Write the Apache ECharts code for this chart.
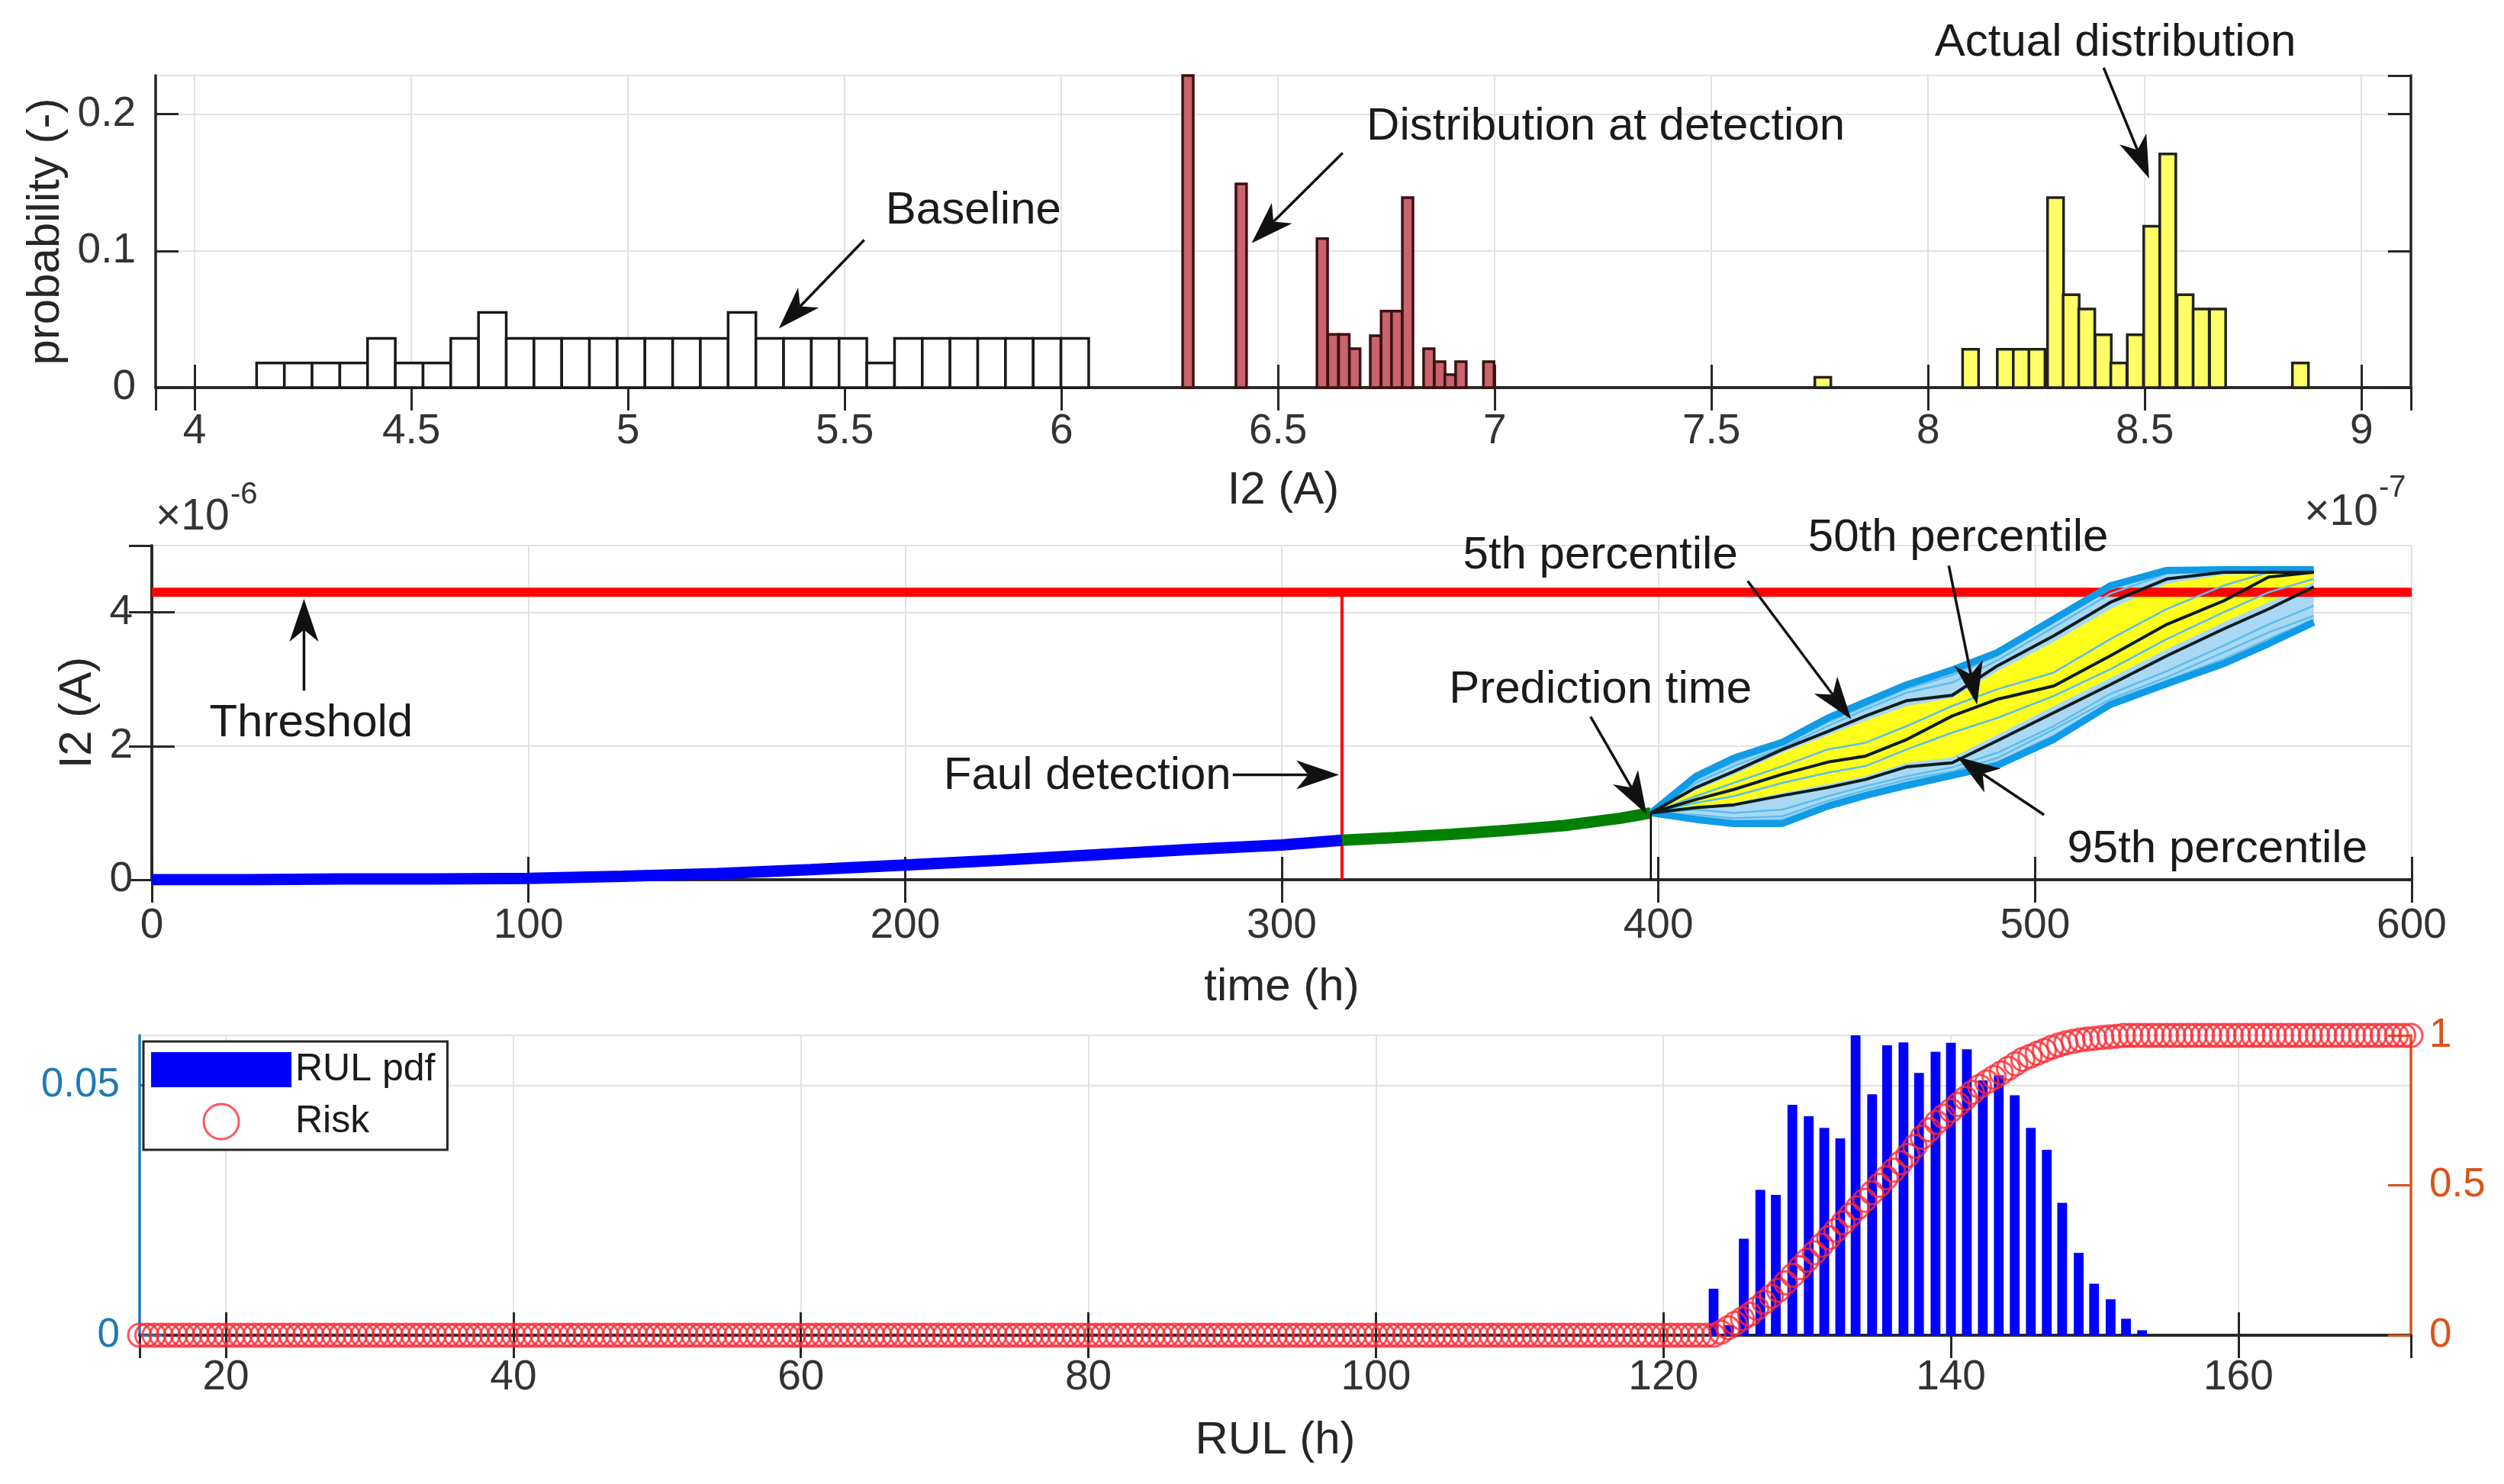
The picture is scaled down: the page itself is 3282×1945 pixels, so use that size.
<!DOCTYPE html>
<html>
<head>
<meta charset="utf-8">
<title>I2 degradation and RUL</title>
<script src="https://cdn.jsdelivr.net/npm/echarts@6/dist/echarts.min.js"></script>
<style>
html, body { margin: 0; padding: 0; background: #fff; }
#main { width: 3282px; height: 1945px; }
</style>
</head>
<body>
<div id="main"></div>
<script>
// ---- top panel: I2 histograms (x in units of 1e-7 A) ----
var baselineEdges = [4.143, 4.207, 4.271, 4.335, 4.399, 4.463, 4.527, 4.591, 4.655, 4.719,
    4.783, 4.847, 4.911, 4.975, 5.039, 5.103, 5.167, 5.231, 5.295, 5.359,
    5.423, 5.487, 5.551, 5.615, 5.679, 5.743, 5.807, 5.871, 5.935, 5.999, 6.063];
var baselineProb = [0.018, 0.018, 0.018, 0.018, 0.036, 0.018, 0.018, 0.036, 0.055, 0.036,
    0.036, 0.036, 0.036, 0.036, 0.036, 0.036, 0.036, 0.055, 0.036, 0.036,
    0.036, 0.036, 0.018, 0.036, 0.036, 0.036, 0.036, 0.036, 0.036, 0.036];

var detectCenters = [6.292, 6.415, 6.602, 6.627, 6.652, 6.677, 6.725, 6.750, 6.774, 6.799,
    6.848, 6.873, 6.897, 6.922, 6.986];
var detectProb = [0.24, 0.149, 0.109, 0.039, 0.039, 0.0285, 0.038, 0.056, 0.056, 0.139,
    0.0285, 0.019, 0.0095, 0.019, 0.019];
var detectWidth = 0.0245;

var actualCenters = [7.757, 8.098, 8.178, 8.215, 8.251, 8.294, 8.330, 8.366, 8.404, 8.440,
    8.478, 8.516, 8.553, 8.593, 8.630, 8.668, 8.859];
var actualProb = [0.0075, 0.028, 0.028, 0.028, 0.028, 0.139, 0.068, 0.0575, 0.0387, 0.018,
    0.0387, 0.118, 0.171, 0.068, 0.0575, 0.0575, 0.018];
var actualWidth = 0.037;

// ---- middle panel: I2 over time (units of 1e-6 A) ----
var histTime = [0, 25, 50, 75, 100, 125, 150, 175, 200, 225, 250, 275, 300, 316];
var histI2 = [0.0, 0.0, 0.01, 0.01, 0.02, 0.05, 0.09, 0.15, 0.22, 0.29, 0.37, 0.45, 0.52, 0.59];
var detTime = [316, 330, 345, 360, 375, 390, 398];
var detI2 = [0.59, 0.63, 0.68, 0.74, 0.81, 0.92, 1.0];
var threshold = 4.3;
var faultTime = 316;
var predTime = 398;

var fanTime = [398, 410, 420, 433, 445, 455, 466, 478, 490, 505, 520, 535, 550, 562, 574];
var upBlue = [1.0, 1.55, 1.82, 2.06, 2.42, 2.66, 2.92, 3.14, 3.4, 3.9, 4.4, 4.63, 4.64, 4.64, 4.64];
var loBlue = [1.0, 0.9, 0.84, 0.84, 1.1, 1.26, 1.41, 1.56, 1.71, 2.1, 2.62, 2.93, 3.23, 3.53, 3.85];
var pct5 = [1.0, 1.38, 1.62, 1.95, 2.22, 2.45, 2.68, 2.76, 3.2, 3.65, 4.15, 4.5, 4.6, 4.6, 4.6];
var pct50 = [1.0, 1.2, 1.35, 1.58, 1.76, 1.85, 2.1, 2.45, 2.7, 2.9, 3.35, 3.82, 4.17, 4.53, 4.6];
var pct95 = [1.0, 1.08, 1.12, 1.26, 1.38, 1.5, 1.69, 1.75, 2.08, 2.5, 2.92, 3.35, 3.75, 4.05, 4.38];
var yelUp = [1.0, 1.34, 1.57, 1.9, 2.16, 2.38, 2.6, 2.72, 3.12, 3.56, 4.05, 4.43, 4.56, 4.59, 4.6];
var yelLo = [1.0, 1.1, 1.15, 1.3, 1.43, 1.55, 1.75, 1.83, 2.17, 2.6, 3.02, 3.45, 3.85, 4.15, 4.45];
var trajs = [
    [1.0, 1.05, 1.0, 1.05, 1.25, 1.4, 1.55, 1.68, 1.9, 2.3, 2.78, 3.12, 3.5, 3.82, 4.1],
    [1.0, 1.45, 1.7, 1.98, 2.3, 2.55, 2.8, 2.95, 3.28, 3.78, 4.28, 4.58, 4.62, 4.62, 4.62],
    [1.0, 1.15, 1.25, 1.45, 1.6, 1.7, 1.95, 2.2, 2.42, 2.75, 3.15, 3.6, 4.0, 4.3, 4.5],
    [1.0, 0.97, 0.92, 0.95, 1.18, 1.34, 1.5, 1.62, 1.82, 2.25, 2.7, 3.03, 3.4, 3.7, 3.95],
    [1.0, 1.25, 1.45, 1.7, 1.95, 2.05, 2.3, 2.6, 2.85, 3.1, 3.6, 4.05, 4.4, 4.6, 4.62],
    [1.0, 1.5, 1.76, 2.02, 2.36, 2.6, 2.86, 3.06, 3.35, 3.85, 4.35, 4.62, 4.63, 4.63, 4.63],
    [1.0, 0.94, 0.88, 0.9, 1.14, 1.3, 1.46, 1.6, 1.76, 2.16, 2.66, 2.98, 3.3, 3.6, 3.9]
];

// ---- bottom panel: RUL pdf and risk ----
var rulCenters = [123.49, 124.56, 125.59, 126.74, 127.82, 128.97, 130.11, 131.19, 132.30, 133.37,
    134.52, 135.56, 136.70, 137.78, 138.93, 140.00, 141.11, 142.22, 143.33, 144.44,
    145.56, 146.67, 147.74, 148.89, 149.96, 151.11, 152.18, 153.30];
var rulPdf = [0.0093, 0.002, 0.0193, 0.0291, 0.0281, 0.0461, 0.0438, 0.0415, 0.0394, 0.060,
    0.0482, 0.058, 0.0586, 0.0525, 0.0567, 0.0585, 0.0572, 0.051, 0.052, 0.048,
    0.0415, 0.0371, 0.0265, 0.0165, 0.0103, 0.0072, 0.0033, 0.001];
var rulBarWidth = 0.68;

var riskStart = 14;   // risk sampled every half hour from RUL = 14 h
var riskStep = 0.5;
var risk = [
    0, 0, 0, 0, 0, 0, 0, 0, 0, 0, 0, 0, 0, 0, 0, 0, 0, 0, 0, 0,
    0, 0, 0, 0, 0, 0, 0, 0, 0, 0, 0, 0, 0, 0, 0, 0, 0, 0, 0, 0,
    0, 0, 0, 0, 0, 0, 0, 0, 0, 0, 0, 0, 0, 0, 0, 0, 0, 0, 0, 0,
    0, 0, 0, 0, 0, 0, 0, 0, 0, 0, 0, 0, 0, 0, 0, 0, 0, 0, 0, 0,
    0, 0, 0, 0, 0, 0, 0, 0, 0, 0, 0, 0, 0, 0, 0, 0, 0, 0, 0, 0,
    0, 0, 0, 0, 0, 0, 0, 0, 0, 0, 0, 0, 0, 0, 0, 0, 0, 0, 0, 0,
    0, 0, 0, 0, 0, 0, 0, 0, 0, 0, 0, 0, 0, 0, 0, 0, 0, 0, 0, 0,
    0, 0, 0, 0, 0, 0, 0, 0, 0, 0, 0, 0, 0, 0, 0, 0, 0, 0, 0, 0,
    0, 0, 0, 0, 0, 0, 0, 0, 0, 0, 0, 0, 0, 0, 0, 0, 0, 0, 0, 0,
    0, 0, 0, 0, 0, 0, 0, 0, 0, 0, 0, 0, 0, 0, 0, 0, 0, 0, 0, 0,
    0, 0, 0, 0, 0, 0, 0, 0, 0, 0, 0, 0, 0, 0, 0, 0, 0, 0, 0, 0,
    0.01, 0.025, 0.04, 0.055, 0.07, 0.09, 0.11, 0.13, 0.15, 0.175,
    0.2, 0.225, 0.25, 0.275, 0.3, 0.325, 0.35, 0.375, 0.4, 0.425,
    0.45, 0.475, 0.5, 0.525, 0.55, 0.575, 0.6, 0.63, 0.66, 0.685,
    0.71, 0.73, 0.75, 0.77, 0.79, 0.81, 0.83, 0.845, 0.86, 0.875,
    0.89, 0.905, 0.92, 0.93, 0.94, 0.95, 0.96, 0.968, 0.975, 0.98,
    0.985, 0.988, 0.99, 0.993, 0.995, 0.997,
    1, 1, 1, 1, 1, 1, 1, 1, 1, 1, 1, 1, 1, 1, 1, 1, 1, 1, 1, 1,
    1, 1, 1, 1, 1, 1, 1, 1, 1, 1, 1, 1, 1, 1, 1, 1, 1, 1, 1, 1, 1
];

var FONT = '"Liberation Sans", Arial, Helvetica, sans-serif';
var AX = '#262626';
var LEFTC = '#1f7ab5';
var RIGHTC = '#d95319';

function zip(xs, ys) {
    var out = [];
    for (var i = 0; i < xs.length; i++) out.push([xs[i], ys[i]]);
    return out;
}

function barItems(centers, probs, width) {
    var out = [];
    for (var i = 0; i < centers.length; i++) out.push([centers[i] - width / 2, centers[i] + width / 2, probs[i]]);
    return out;
}

function edgeItems(edges, probs) {
    var out = [];
    for (var i = 0; i < probs.length; i++) out.push([edges[i], edges[i + 1], probs[i]]);
    return out;
}

function rectRender(fill, stroke, lw) {
    return function (params, api) {
        var p0 = api.coord([api.value(0), api.value(2)]);
        var p1 = api.coord([api.value(1), 0]);
        var cs = params.coordSys;
        var r = echarts.graphic.clipRectByRect(
            {x: p0[0], y: p0[1], width: p1[0] - p0[0], height: p1[1] - p0[1]},
            {x: cs.x, y: cs.y, width: cs.width, height: cs.height});
        if (!r) return;
        return {type: 'rect', shape: r, style: {fill: fill, stroke: stroke, lineWidth: lw}};
    };
}

function band(upper, lower, color) {
    return {
        type: 'custom', xAxisIndex: 2, yAxisIndex: 2, silent: true,
        data: [[fanTime[0], upper[0]]],
        renderItem: function (params, api) {
            var pts = [];
            for (var i = 0; i < fanTime.length; i++) pts.push(api.coord([fanTime[i], upper[i]]));
            for (var j = fanTime.length - 1; j >= 0; j--) pts.push(api.coord([fanTime[j], lower[j]]));
            return {type: 'polygon', shape: {points: pts}, style: {fill: color}};
        }
    };
}

function line(data, color, width) {
    return {
        type: 'line', xAxisIndex: 2, yAxisIndex: 2, data: data, showSymbol: false,
        symbol: 'none', silent: true, lineStyle: {color: color, width: width}
    };
}

var splitL = {show: true, lineStyle: {color: '#e2e2e2', width: 2}};
var axLine = {show: true, lineStyle: {color: AX, width: 3.5}};
var axTick = {show: true, inside: true, length: 30, lineStyle: {color: AX, width: 3}};
var nameStyle = {fontSize: 60, color: AX, fontFamily: FONT};

var series = [];
// top histograms
series.push({type: 'custom', xAxisIndex: 0, yAxisIndex: 0, silent: true,
    data: edgeItems(baselineEdges, baselineProb), renderItem: rectRender('#ffffff', '#1a1a1a', 3.5)});
series.push({type: 'custom', xAxisIndex: 0, yAxisIndex: 0, silent: true,
    data: barItems(detectCenters, detectProb, detectWidth), renderItem: rectRender('#c9636c', '#3b1214', 3.5)});
series.push({type: 'custom', xAxisIndex: 0, yAxisIndex: 0, silent: true,
    data: barItems(actualCenters, actualProb, actualWidth), renderItem: rectRender('#ffff66', '#222222', 3.5)});

// middle trajectories
series.push(line([[0, threshold], [600, threshold]], '#ff0000', 12));
series.push(line([[faultTime, 0], [faultTime, threshold]], '#ff0000', 4));
series.push(line(zip(histTime, histI2), '#0000ff', 15));
series.push(line(zip(detTime, detI2), '#008000', 15));
series.push(band(upBlue, loBlue, '#a9d8f2'));
series.push(band(yelUp, yelLo, '#ffff1a'));
for (var t = 0; t < trajs.length; t++) series.push(line(zip(fanTime, trajs[t]), '#5dbdf0', 2.5));
series.push(line(zip(fanTime, upBlue), '#0f9be6', 9));
series.push(line(zip(fanTime, loBlue), '#0f9be6', 9));
series.push(line(zip(fanTime, pct5), '#0b1c1f', 4));
series.push(line(zip(fanTime, pct50), '#0b1c1f', 4));
series.push(line(zip(fanTime, pct95), '#0b1c1f', 4));
series.push(line([[predTime, 0], [predTime, detI2[detI2.length - 1]]], '#000000', 2.5));

// bottom: pdf + risk
var riskData = [];
for (var r = 0; r < risk.length; r++) riskData.push([riskStart + r * riskStep, risk[r]]);
series.push({name: 'RUL pdf', type: 'custom', xAxisIndex: 4, yAxisIndex: 4, silent: true,
    itemStyle: {color: '#0000ff'},
    data: barItems(rulCenters, rulPdf, rulBarWidth), renderItem: rectRender('#0000ff', null, 0)});
series.push({name: 'Risk', type: 'scatter', xAxisIndex: 4, yAxisIndex: 5, silent: true, clip: false,
    symbol: 'circle', symbolSize: 30, z: 5, large: false,
    itemStyle: {color: 'rgba(255,255,255,0)', borderColor: '#ff2a35', borderWidth: 3},
    data: riskData});

var option = {
    animation: false,
    backgroundColor: '#ffffff',
    textStyle: {fontFamily: FONT},
    grid: [
        {left: 204, top: 99, width: 2956, height: 409, containLabel: false, outerBoundsMode: 'none'},
        {left: 199, top: 715, width: 2962, height: 438, containLabel: false, outerBoundsMode: 'none'},
        {left: 183, top: 1357, width: 2977, height: 393, containLabel: false, outerBoundsMode: 'none'}
    ],
    legend: {
        left: 188, top: 1365, orient: 'vertical',
        itemWidth: 184, itemHeight: 46, itemGap: 18,
        padding: [12, 16, 12, 10],
        borderColor: AX, borderWidth: 3, backgroundColor: '#ffffff',
        textStyle: {fontSize: 50, color: '#1a1a1a', fontFamily: FONT},
        data: [{name: 'RUL pdf', icon: 'rect'},
               {name: 'Risk', icon: 'circle', itemStyle: {color: '#ffffff', borderColor: '#ff2a35', borderWidth: 3}}]
    },
    xAxis: [
        {gridIndex: 0, type: 'value', min: 3.91, max: 9.114, splitNumber: 10, position: 'bottom',
            name: 'I2 (A)', nameLocation: 'middle', nameGap: 105, nameTextStyle: nameStyle,
            axisLine: axLine, axisTick: axTick, splitLine: splitL,
            axisLabel: {margin: 30, showMinLabel: false, showMaxLabel: false, fontSize: 55, color: '#333', fontFamily: FONT}},
        {gridIndex: 0, type: 'value', min: 3.91, max: 9.114, splitNumber: 10, position: 'top',
            axisLine: axLine, axisTick: axTick, splitLine: {show: false}, axisLabel: {show: false}},
        {gridIndex: 1, type: 'value', min: 0, max: 600, interval: 100, position: 'bottom',
            name: 'time (h)', nameLocation: 'middle', nameGap: 111, nameTextStyle: nameStyle,
            axisLine: axLine, axisTick: axTick, splitLine: splitL,
            axisLabel: {margin: 33, showMinLabel: true, showMaxLabel: true, fontSize: 55, color: '#333', fontFamily: FONT}},
        {gridIndex: 1, type: 'value', min: 0, max: 600, interval: 100, position: 'top',
            axisLine: axLine, axisTick: axTick, splitLine: {show: false}, axisLabel: {show: false}},
        {gridIndex: 2, type: 'value', min: 14, max: 172, splitNumber: 8, position: 'bottom',
            name: 'RUL (h)', nameLocation: 'middle', nameGap: 108, nameTextStyle: nameStyle,
            axisLine: axLine, axisTick: axTick, splitLine: splitL,
            axisLabel: {margin: 28, showMinLabel: false, showMaxLabel: false, fontSize: 55, color: '#333', fontFamily: FONT}},
        {gridIndex: 2, type: 'value', min: 14, max: 172, splitNumber: 8, position: 'top',
            axisLine: axLine, axisTick: axTick, splitLine: {show: false}, axisLabel: {show: false}}
    ],
    yAxis: [
        {gridIndex: 0, type: 'value', min: 0, max: 0.2283, interval: 0.1, position: 'left',
            name: 'probability (-)', nameLocation: 'middle', nameGap: 96, nameTextStyle: nameStyle,
            axisLine: axLine, axisTick: axTick, splitLine: splitL,
            axisLabel: {margin: 26, showMaxLabel: false, fontSize: 55, color: '#333', fontFamily: FONT}},
        {gridIndex: 0, type: 'value', min: 0, max: 0.2283, interval: 0.1, position: 'right',
            axisLine: axLine, axisTick: axTick, splitLine: {show: false}, axisLabel: {show: false}},
        {gridIndex: 1, type: 'value', min: 0, max: 5, interval: 2, position: 'left',
            name: 'I2 (A)', nameLocation: 'middle', nameGap: 48, nameTextStyle: nameStyle,
            axisLine: axLine, axisTick: axTick, splitLine: splitL,
            axisLabel: {margin: 25, showMaxLabel: false, fontSize: 55, color: '#333', fontFamily: FONT}},
        {gridIndex: 1, type: 'value', min: 0, max: 5, interval: 2, position: 'right',
            axisLine: axLine, axisTick: axTick, splitLine: {show: false}, axisLabel: {show: false}},
        {gridIndex: 2, type: 'value', min: 0, max: 0.06, interval: 0.05, position: 'left',
            axisLine: {show: true, lineStyle: {color: LEFTC, width: 3.5}},
            axisTick: {show: true, inside: true, length: 30, lineStyle: {color: LEFTC, width: 3}},
            splitLine: splitL,
            axisLabel: {margin: 26, showMaxLabel: false, fontSize: 53, color: LEFTC, fontFamily: FONT}},
        {gridIndex: 2, type: 'value', min: 0, max: 1, interval: 0.5, position: 'right',
            axisLine: {show: true, lineStyle: {color: RIGHTC, width: 3.5}},
            axisTick: {show: true, inside: true, length: 30, lineStyle: {color: RIGHTC, width: 3}},
            splitLine: {show: false},
            axisLabel: {margin: 24, fontSize: 53, color: RIGHTC, fontFamily: FONT}}
    ],
    series: series
};

var chart = echarts.init(document.getElementById('main'));
chart.setOption(option);

// annotations: text and arrow in data coordinates of each panel
var notes = [
    {ax: [0, 0], text: 'Baseline', at: [5.797, 0.129], from: [5.545, 0.108], to: [5.348, 0.0433]},
    {ax: [0, 0], text: 'Distribution at detection', at: [7.256, 0.1907], from: [6.649, 0.1717], to: [6.439, 0.1056]},
    {ax: [0, 0], text: 'Actual distribution', at: [8.432, 0.252], from: [8.405, 0.234], to: [8.51, 0.153]},
    {ax: [2, 2], text: 'Threshold', at: [42.3, 2.34], from: [40.4, 2.83], to: [40.4, 4.2]},
    {ax: [2, 2], text: 'Faul detection', at: [248.4, 1.55], from: [287, 1.57], to: [315.2, 1.57]},
    {ax: [2, 2], text: 'Prediction time', at: [384.6, 2.84], from: [382, 2.44], to: [396.9, 0.98]},
    {ax: [2, 2], text: '5th percentile', at: [384.6, 4.85], from: [423.7, 4.47], to: [451.2, 2.4]},
    {ax: [2, 2], text: '50th percentile', at: [479.6, 5.11], from: [477.1, 4.7], to: [484.6, 2.62]},
    {ax: [2, 2], text: '95th percentile', at: [548.4, 0.45], from: [502.4, 0.97], to: [479.3, 1.84]}
];

function px(ax, v) {
    return chart.convertToPixel({xAxisIndex: ax[0], yAxisIndex: ax[1]}, v);
}

function arrow(p0, p1) {
    var dx = p1[0] - p0[0], dy = p1[1] - p0[1];
    var len = Math.sqrt(dx * dx + dy * dy);
    var ux = dx / len, uy = dy / len, nx = -uy, ny = ux;
    var L = 56, W = 38;
    var back = [p1[0] - ux * L, p1[1] - uy * L];
    var notch = [p1[0] - ux * L * 0.72, p1[1] - uy * L * 0.72];
    return [
        {type: 'line', z: 100, silent: true,
            shape: {x1: p0[0], y1: p0[1], x2: notch[0], y2: notch[1]},
            style: {stroke: '#111111', lineWidth: 3.5}},
        {type: 'polygon', z: 100, silent: true,
            shape: {points: [p1, [back[0] + nx * W / 2, back[1] + ny * W / 2], notch,
                             [back[0] - nx * W / 2, back[1] - ny * W / 2]]},
            style: {fill: '#111111'}}
    ];
}

var gfx = [];
notes.forEach(function (n) {
    var c = px(n.ax, n.at);
    gfx.push({type: 'text', z: 100, silent: true, x: c[0], y: c[1],
        style: {text: n.text, fontSize: 60, fontFamily: FONT, fill: '#1a1a1a', align: 'center', verticalAlign: 'middle'}});
    gfx = gfx.concat(arrow(px(n.ax, n.from), px(n.ax, n.to)));
});

// axis exponent labels
gfx.push({type: 'text', z: 100, silent: true, x: 3117, y: 672,
    style: {text: '\u00d710', fontSize: 57, fontFamily: FONT, fill: '#333', align: 'right', verticalAlign: 'middle'}});
gfx.push({type: 'text', z: 100, silent: true, x: 3118, y: 640,
    style: {text: '-7', fontSize: 40, fontFamily: FONT, fill: '#333', align: 'left', verticalAlign: 'middle'}});
gfx.push({type: 'text', z: 100, silent: true, x: 204, y: 678,
    style: {text: '\u00d710', fontSize: 57, fontFamily: FONT, fill: '#333', align: 'left', verticalAlign: 'middle'}});
gfx.push({type: 'text', z: 100, silent: true, x: 302, y: 649,
    style: {text: '-6', fontSize: 40, fontFamily: FONT, fill: '#333', align: 'left', verticalAlign: 'middle'}});

chart.setOption({graphic: gfx});
</script>
</body>
</html>
